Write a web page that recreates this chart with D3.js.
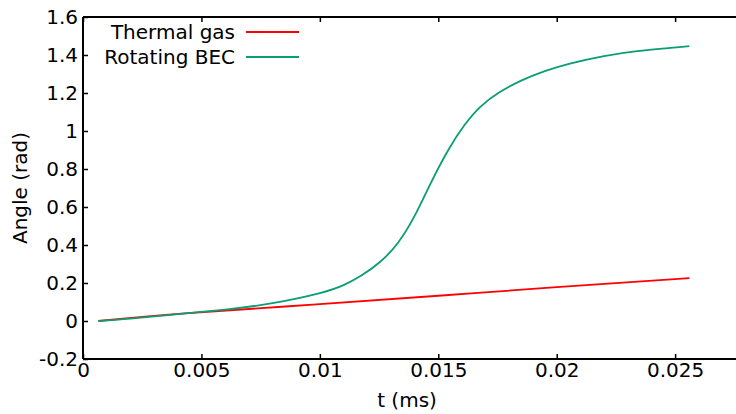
<!DOCTYPE html>
<html>
<head>
<meta charset="utf-8">
<script src="https://cdn.jsdelivr.net/npm/d3@7/dist/d3.min.js"></script>
<style>
  html, body { margin: 0; padding: 0; background: #fff; }
  svg { display: block; font-family: "DejaVu Sans", sans-serif; }
</style>
</head>
<body>
<svg id="chart" width="736" height="414"></svg>
<script>
// ---- data ----
const seriesNames = ["Thermal gas", "Rotating BEC"];
const seriesColors = ["#ff0000", "#0a9e74"];
const thermalT = [0.00065, 0.0043, 0.0097, 0.015, 0.02, 0.0256];
const thermalA = [0.0, 0.040, 0.086, 0.133, 0.178, 0.226];
const becT = [0.00065, 0.002, 0.004, 0.006, 0.008, 0.010, 0.011, 0.0117, 0.01255, 0.0133, 0.0140, 0.0147, 0.0154, 0.0161, 0.0168, 0.0176, 0.0185, 0.0195, 0.0206, 0.022, 0.0234, 0.0248, 0.0256];
const becA = [0.0, 0.012, 0.036, 0.060, 0.094, 0.147, 0.189, 0.235, 0.312, 0.412, 0.553, 0.730, 0.895, 1.030, 1.130, 1.205, 1.265, 1.315, 1.356, 1.394, 1.420, 1.437, 1.447];
const xTicks = [0, 0.005, 0.01, 0.015, 0.02, 0.025];
const xTickLabels = ["0", "0.005", "0.01", "0.015", "0.02", "0.025"];
const yTicks = [-0.2, 0, 0.2, 0.4, 0.6, 0.8, 1, 1.2, 1.4, 1.6];
const yTickLabels = ["-0.2", "0", "0.2", "0.4", "0.6", "0.8", "1", "1.2", "1.4", "1.6"];
const xDomain = [0, 0.02757];
const yDomain = [-0.2, 1.6];

// ---- layout ----
const svg = d3.select("#chart");
const L = 83, R = 736, T = 17, B = 359;
const x = d3.scaleLinear().domain(xDomain).range([L, R]);
const y = d3.scaleLinear().domain(yDomain).range([B, T]);

svg.append("defs").append("clipPath").attr("id", "clip")
  .append("rect").attr("x", L).attr("y", T).attr("width", R - L + 10).attr("height", B - T);

const fs = 20;

// axes
const xAxis = d3.axisBottom(x).tickValues(xTicks).tickSize(-5).tickPadding(4)
  .tickFormat((d, i) => xTickLabels[i]);
const gx = svg.append("g").attr("transform", `translate(0,${B})`).call(xAxis);
const xTop = d3.axisTop(x).tickValues(xTicks).tickSize(-5).tickFormat("");
const gxt = svg.append("g").attr("transform", `translate(0,${T})`).call(xTop);
const yAxis = d3.axisLeft(y).tickValues(yTicks).tickSize(-5).tickPadding(5)
  .tickFormat((d, i) => yTickLabels[i]);
const gy = svg.append("g").attr("transform", `translate(${L},0)`).call(yAxis);

[gx, gxt, gy].forEach(g => {
  g.select(".domain").attr("stroke", "#000").attr("stroke-width", 2);
  g.selectAll(".tick line").attr("stroke", "#000").attr("stroke-width", 1.5);
  g.selectAll(".tick text").attr("fill", "#000").attr("font-size", fs)
    .attr("font-family", "DejaVu Sans, sans-serif");
});
gy.select(".domain").attr("d", `M0,${B}V${T}`);
gx.select(".domain").attr("d", `M${L},0H${R}`);
gxt.select(".domain").attr("d", `M${L},0H${R}`);

// axis titles
svg.append("text").attr("x", 407).attr("y", 407).attr("text-anchor", "middle")
  .attr("font-size", fs).attr("fill", "#000").text("t (ms)");
svg.append("text").attr("transform", `translate(27,188) rotate(-90)`)
  .attr("text-anchor", "middle").attr("font-size", fs).attr("fill", "#000").text("Angle (rad)");

// lines
const plot = svg.append("g").attr("clip-path", "url(#clip)");
const line = d3.line().x(d => x(d[0])).y(d => y(d[1])).curve(d3.curveNatural);
const series = [
  thermalT.map((t, i) => [t, thermalA[i]]),
  becT.map((t, i) => [t, becA[i]])
];
series.forEach((s, i) => {
  plot.append("path").datum(s).attr("d", line)
    .attr("fill", "none").attr("stroke", seriesColors[i]).attr("stroke-width", 1.8);
});

// legend
const leg = svg.append("g");
seriesNames.forEach((n, i) => {
  const yy = 39 + i * 25;
  leg.append("text").attr("x", 235).attr("y", yy).attr("text-anchor", "end")
    .attr("font-size", fs).attr("fill", "#000").text(n);
  leg.append("line").attr("x1", 246).attr("x2", 299).attr("y1", yy - 7).attr("y2", yy - 7)
    .attr("stroke", seriesColors[i]).attr("stroke-width", 1.8);
});
</script>
</body>
</html>
